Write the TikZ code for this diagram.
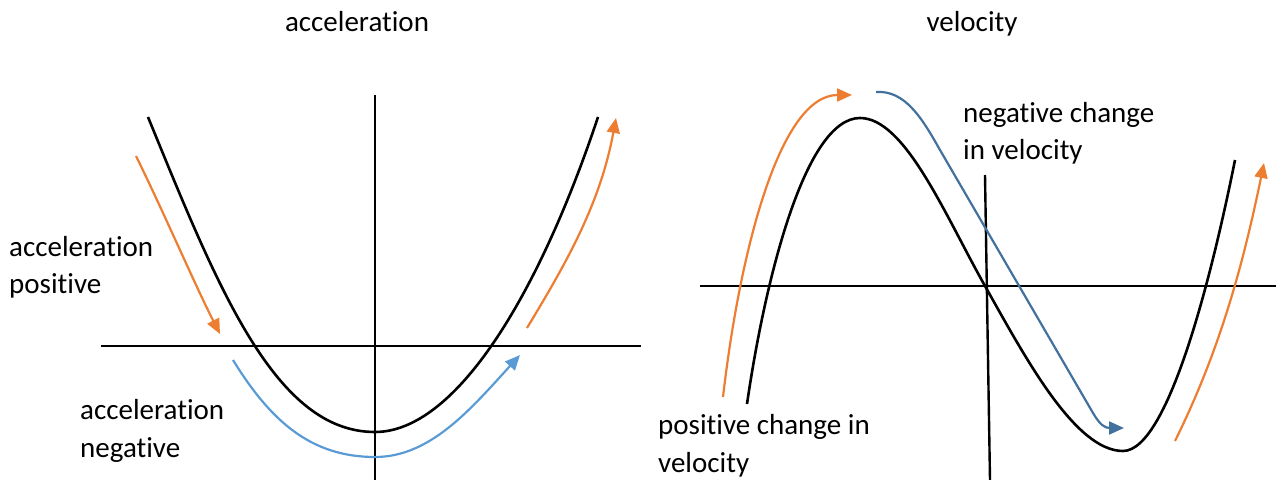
\documentclass[tikz,border=0pt]{standalone}
\usepackage{fontspec}
\setmainfont[Ligatures={NoCommon}]{Carlito}
\usetikzlibrary{arrows.meta}
\definecolor{orng}{HTML}{ED7D31}
\definecolor{lblue}{HTML}{5B9BD5}
\definecolor{dblue}{HTML}{41719C}
\tikzset{
  axis/.style={line width=2.4bp, black},
  curve/.style={line width=2.6bp, black},
  arr/.style={line width=2.2bp, -{Triangle[length=15bp,width=13bp]}},
  lbl/.style={anchor=base west, inner sep=0pt, align=left, font=\fontsize{29bp}{37.5bp}\selectfont},
  ttl/.style={anchor=base, inner sep=0pt, font=\fontsize{29bp}{37.5bp}\selectfont}
}
\begin{document}
\begin{tikzpicture}[x=1bp,y=-1bp]
\useasboundingbox (0,0) rectangle (1276,480);
% ---------- left panel ----------
\node[ttl] (t1) at (357,32) {acceleration};
\draw[axis] (101,346) -- (641,346);
\draw[axis] (375,95) -- (375,480);
\draw[curve] (148,117) .. controls (218,288) and (275,432) .. (375,432)
             .. controls (455,432) and (538,297) .. (598,117);
\draw[arr, orng] (136,156) .. controls (165,215) and (195,285) .. (220,334);
\draw[arr, lblue] (233,360) .. controls (270,420) and (310,457) .. (375,457)
                  .. controls (430,457) and (470,410) .. (520,355);
\draw[arr, orng] (527,328) .. controls (565,265) and (600,205) .. (616,118);
% anchor base = baseline of the last line
\node[lbl] (l1) at (9,294) {acceleration\\positive};
\node[lbl] (l2) at (80,457) {acceleration\\negative};
% ---------- right panel ----------
\node[ttl] (t2) at (972,32) {velocity};
\draw[axis] (700,286) -- (1276,286);
\draw[axis] (985,175) -- (990,480);
\draw[curve] (747,404) .. controls (765,280) and (805,118) .. (860,118)
             .. controls (905,118) and (945,215) .. (985,286)
             .. controls (1025,357) and (1075,451) .. (1123,451)
             .. controls (1170,451) and (1215,260) .. (1235,160);
\draw[arr, orng] (723,397) .. controls (740,250) and (780,95) .. (852,95);
\draw[arr, dblue] (876,92) .. controls (905,90) and (922,118) .. (940,150)
                  -- (1093,413) .. controls (1100,425) and (1105,428) .. (1124,428);
\draw[arr, orng] (1175,441) .. controls (1215,360) and (1240,280) .. (1264,163);
\node[lbl] (l3) at (963,160) {negative change\\in velocity};
\node[lbl] (l4) at (658,472) {positive change in\\velocity};
\end{tikzpicture}
\end{document}
